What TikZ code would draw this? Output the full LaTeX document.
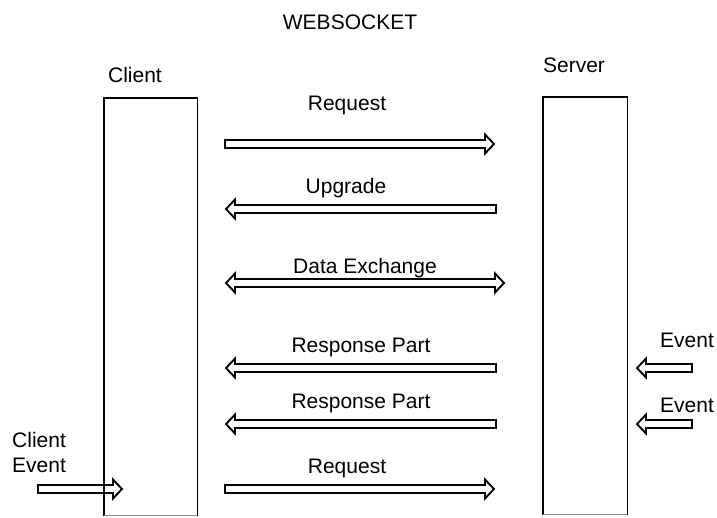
\documentclass[tikz,border=0pt]{standalone}
\usepackage{fontspec}
\setmainfont{Liberation Sans}
\usetikzlibrary{calc}

\tikzset{
  lbl/.style={anchor=base, inner sep=0pt, font=\fontsize{21}{25}\selectfont},
  lblw/.style={lbl, anchor=base west},
  lifeline/.style={draw=none, inner sep=0pt, minimum width=#1, minimum height=417pt, anchor=north west},
  edge/.style={line width=1.7pt, line cap=rect},
  baseedge/.style={line width=1.4pt, draw=black!45},
  barrow/.style={line width=1.9pt, line join=miter, draw=black}
}

% block arrow pointing right, tail #1, tip #2
\newcommand\rightblock[2]{%
  \draw[barrow] ($(#1)+(0,4)$) -- ($(#2)+(-9,4)$) -- ($(#2)+(-9,9.5)$) -- (#2)
    -- ($(#2)+(-9,-9.5)$) -- ($(#2)+(-9,-4)$) -- ($(#1)+(0,-4)$) -- cycle;}
% block arrow pointing left, tip #1, tail #2
\newcommand\leftblock[2]{%
  \draw[barrow] ($(#2)+(0,4)$) -- ($(#1)+(9,4)$) -- ($(#1)+(9,9.5)$) -- (#1)
    -- ($(#1)+(9,-9.5)$) -- ($(#1)+(9,-4)$) -- ($(#2)+(0,-4)$) -- cycle;}
% block arrow with heads at both ends
\newcommand\bothblock[2]{%
  \draw[barrow] (#1) -- ($(#1)+(9,9.5)$) -- ($(#1)+(9,4)$) -- ($(#2)+(-9,4)$)
    -- ($(#2)+(-9,9.5)$) -- (#2) -- ($(#2)+(-9,-9.5)$) -- ($(#2)+(-9,-4)$)
    -- ($(#1)+(9,-4)$) -- ($(#1)+(9,-9.5)$) -- cycle;}

\begin{document}
\begin{tikzpicture}[x=1pt, y=-1pt]
\useasboundingbox (0,0) rectangle (717,517);

% title and participant names
\node[lbl] (title) at (350,29) {WEBSOCKET};
\node[lbl] (clientname) at (135,82) {Client};
\node[lbl] (servername) at (574,72) {Server};

% lifeline boxes, open towards the bottom
\node[lifeline=93pt] (client) at (104,98) {};
\node[lifeline=84pt] (server) at (543,97) {};
\foreach \b in {client, server} {
  \draw[edge] (\b.south west) -- (\b.north west) -- (\b.north east) -- (\b.south east);
  \draw[baseedge] (\b.south west) -- (\b.south east);
}

% message end points
\coordinate (m1a) at (225,144); \coordinate (m1b) at (494,144);
\coordinate (m2a) at (226,209); \coordinate (m2b) at (496,209);
\coordinate (m3a) at (226,283); \coordinate (m3b) at (504,283);
\coordinate (m4a) at (226,368); \coordinate (m4b) at (496,368);
\coordinate (m5a) at (226,424); \coordinate (m5b) at (496,424);
\coordinate (m6a) at (225,489); \coordinate (m6b) at (494,489);
\coordinate (ce1) at (38,489);  \coordinate (ce2) at (122,489);
\coordinate (e1a) at (637,368); \coordinate (e1b) at (692,368);
\coordinate (e2a) at (637,424); \coordinate (e2b) at (692,424);

% messages
\rightblock{m1a}{m1b}
\leftblock{m2a}{m2b}
\bothblock{m3a}{m3b}
\leftblock{m4a}{m4b}
\leftblock{m5a}{m5b}
\rightblock{m6a}{m6b}

% external events
\rightblock{ce1}{ce2}
\leftblock{e1a}{e1b}
\leftblock{e2a}{e2b}

% message labels
\node[lbl] (l1) at (347,110) {Request};
\node[lbl] (l2) at (346,193) {Upgrade};
\node[lbl] (l3) at (365,273) {Data Exchange};
\node[lbl] (l4) at (361,352) {Response Part};
\node[lbl] (l5) at (361,408) {Response Part};
\node[lbl] (l6) at (347,473) {Request};

% event labels
\node[lblw] (cev1) at (12,447) {Client};
\node[lblw] (cev2) at (12,472) {Event};
\node[lblw] (ev1) at (660,347) {Event};
\node[lblw] (ev2) at (660,412) {Event};
\end{tikzpicture}
\end{document}
